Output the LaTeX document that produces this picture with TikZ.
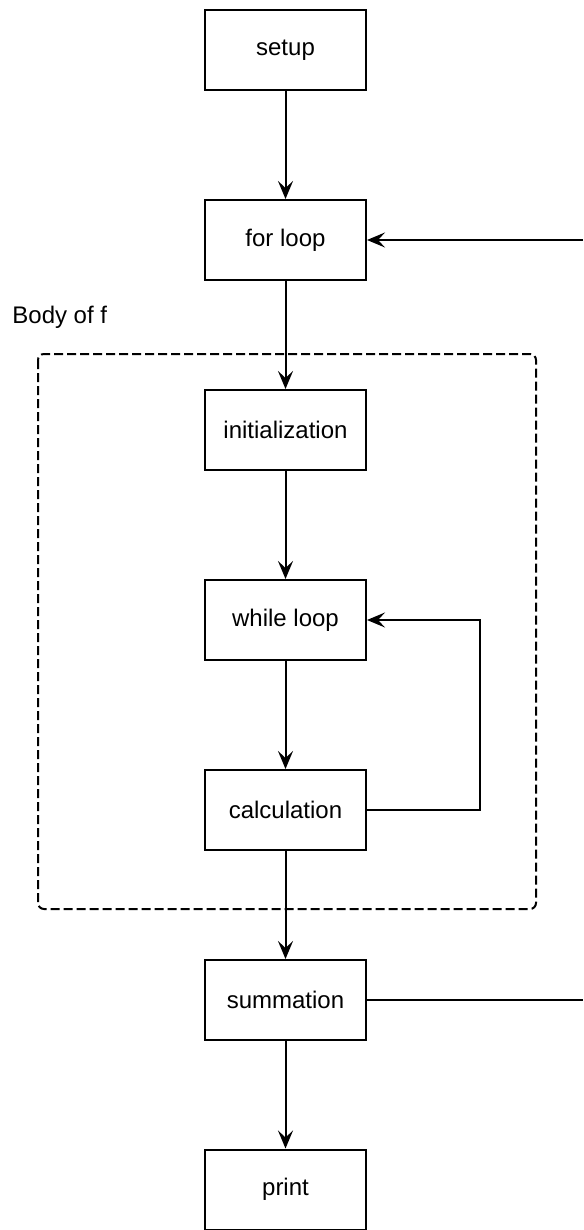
\documentclass[tikz,border=0pt]{standalone}
\usepackage{fontspec}
\setmainfont{Liberation Sans}
\usetikzlibrary{arrows.meta}
\begin{document}
\begin{tikzpicture}[x=0.5pt,y=-0.5pt,
  stepbox/.style={draw, line width=1pt, minimum width=80.5pt, minimum height=40pt, inner sep=0pt, font=\fontsize{12}{14}\selectfont},
  conn/.style={draw, line width=1pt, -{Stealth[length=9pt,width=7.5pt,inset=3.5pt]}},
  plain/.style={draw, line width=1pt},
  bodybox/.style={draw, line width=1pt, dash pattern=on 4.5pt off 2pt, rounded corners=3pt}
]
\useasboundingbox (0,0) rectangle (583,1230);
\node[stepbox] (setup) at (285.5,50) {setup};
\node[stepbox] (for) at (285.5,240) {for loop};
\node[stepbox] (init) at (285.5,430) {initialization};
\node[stepbox] (while) at (285.5,620) {while loop};
\node[stepbox] (calc) at (285.5,810) {calculation};
\node[stepbox] (sum) at (285.5,1000) {summation};
\node[stepbox] (print) at (285.5,1189.5) {print};
\node[anchor=west, inner sep=0pt, font=\fontsize{12}{14}\selectfont] (lbl) at (12,317) {Body of f};
\draw[bodybox] (38,354) rectangle (536,909);
\coordinate (forin) at (583,240);
\coordinate (sumout) at (583,1000);
\coordinate (loopc) at (480,810);
\coordinate (loopw) at (480,620);
\draw[conn] (setup) -- (for);
\draw[conn] (for) -- (init);
\draw[conn] (init) -- (while);
\draw[conn] (while) -- (calc);
\draw[conn] (calc) -- (sum);
\draw[conn] (sum) -- (print);
\draw[conn] (calc.east) -- (loopc) -- (loopw) -- (while.east);
\draw[conn] (forin) -- (for.east);
\draw[plain] (sum.east) -- (sumout);
\end{tikzpicture}
\end{document}
